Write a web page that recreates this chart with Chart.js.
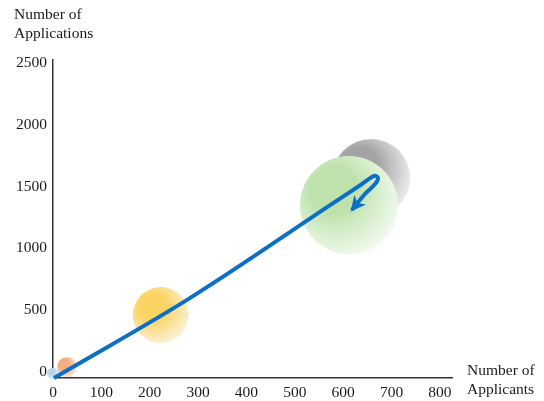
<!DOCTYPE html>
<html>
<head>
<meta charset="utf-8">
<script src="https://cdn.jsdelivr.net/npm/chart.js@4"></script>
<style>
  html, body { margin: 0; padding: 0; background: #fff; }
  #wrap { width: 544px; height: 401px; }
</style>
</head>
<body>
<div id="wrap"><canvas id="chart"></canvas></div>
<script>
// data
const xTicks = [0, 100, 200, 300, 400, 500, 600, 700, 800];
const yTicks = [0, 500, 1000, 1500, 2000, 2500];

const bubbleX = [0, 29, 223, 658, 612];
const bubbleY = [-15, 39, 460, 1570, 1350];
const bubbleR = [6, 10, 28, 39, 49];

const pathX = [2, 283, 573, 639, 664, 672, 666, 645, 618];
const pathY = [-50, 597, 1350, 1521, 1586, 1570, 1521, 1440, 1311];

const yTitle = ["Number of", "Applications"];
const xTitle = ["Number of", "Applicants"];

// styles
const bubbleColors = [
  ["#b9d3ec", "#eef4fb"],
  ["#f2ac7e", "#fdebdf"],
  ["#fcd463", "#faf4e2"],
  ["#a3a3a3", "#f3f3f3"],
  ["#bfe2ad", "#f6fcf4"],
];
const lineColor = "#0b6fc3";
const font = { family: "'Liberation Serif', 'Times New Roman', serif", size: 15.5 };

const bubbles = bubbleX.map((x, i) => ({ x: x, y: bubbleY[i], r: bubbleR[i] }));
const path = pathX.map((x, i) => ({ x: x, y: pathY[i] }));

const bubbleFill = (c) => {
  const chart = c.chart;
  const cols = bubbleColors[c.dataIndex] || bubbleColors[0];
  if (!chart.scales.x || !c.raw) return cols[0];
  const px = chart.scales.x.getPixelForValue(c.raw.x);
  const py = chart.scales.y.getPixelForValue(c.raw.y);
  const r = c.raw.r;
  if (!isFinite(px) || !isFinite(py)) return cols[0];
  const g = chart.ctx.createRadialGradient(px - r * 0.35, py - r * 0.35, r * 0.1, px - r * 0.2, py - r * 0.2, r * 1.35);
  g.addColorStop(0, cols[0]);
  g.addColorStop(0.3, cols[0]);
  g.addColorStop(1, cols[1]);
  return g;
};

const extras = {
  id: "extras",
  afterDatasetsDraw(chart) {
    const ctx = chart.ctx;
    // arrow head at the end of the path
    const pts = chart.getDatasetMeta(0).data;
    const a = pts[pts.length - 1], b = pts[pts.length - 2];
    const ang = Math.atan2(a.y - b.y, a.x - b.x);
    ctx.save();
    ctx.translate(a.x, a.y);
    ctx.rotate(ang);
    ctx.fillStyle = lineColor;
    ctx.beginPath();
    ctx.moveTo(2, 0);
    ctx.lineTo(-13, -7.5);
    ctx.lineTo(-9, 0);
    ctx.lineTo(-13, 7.5);
    ctx.closePath();
    ctx.fill();
    ctx.restore();
  },
  afterDraw(chart) {
    const ctx = chart.ctx;
    ctx.save();
    ctx.fillStyle = "#1a1a1a";
    ctx.font = font.size + "px " + font.family;
    ctx.textAlign = "left";
    ctx.textBaseline = "alphabetic";
    ctx.fillText(yTitle[0], 14, 19);
    ctx.fillText(yTitle[1], 14, 38);
    ctx.fillText(xTitle[0], 467, 375);
    ctx.fillText(xTitle[1], 467, 394);
    ctx.restore();
  },
};

const chart = new Chart(document.getElementById("chart"), {
  data: {
    datasets: [
      {
        type: "line",
        data: path,
        borderColor: lineColor,
        borderWidth: 4,
        pointRadius: 0,
        tension: 0.35,
        fill: false,
        clip: false,
      },
      {
        type: "bubble",
        data: bubbles,
        backgroundColor: bubbleFill,
        borderWidth: 0,
        hoverBorderWidth: 0,
        clip: false,
      },
    ],
  },
  options: {
    responsive: true,
    maintainAspectRatio: false,
    animation: false,
    layout: { autoPadding: false, padding: { top: 60, right: 92, left: 0, bottom: 0 } },
    plugins: { legend: { display: false }, tooltip: { enabled: false } },
    scales: {
      x: {
        type: "linear",
        min: 0,
        max: 825,
        afterBuildTicks: (s) => { s.ticks = xTicks.map((v) => ({ value: v })); },
        afterFit: (s) => { s.height = 23; },
        grid: { display: false, drawTicks: false },
        border: { display: true, color: "#333", width: 1.5 },
        ticks: { color: "#1a1a1a", font: font, padding: 6, maxRotation: 0, callback: (v) => String(v) },
      },
      y: {
        type: "linear",
        min: -50,
        max: 2525,
        afterBuildTicks: (s) => { s.ticks = yTicks.map((v) => ({ value: v })); },
        afterFit: (s) => { s.width = 53; },
        grid: { display: false, drawTicks: false },
        border: { display: true, color: "#333", width: 1.5 },
        ticks: { color: "#1a1a1a", font: font, padding: 6, callback: (v) => String(v) },
      },
    },
  },
  plugins: [extras],
});
// redraw once the scales are laid out so the gradients land on the bubbles
chart.update();
</script>
</body>
</html>
